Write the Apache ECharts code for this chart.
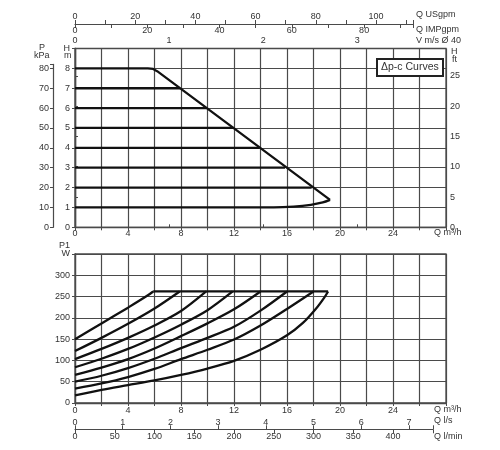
<!DOCTYPE html>
<html><head><meta charset="utf-8">
<script src="https://cdn.jsdelivr.net/npm/echarts@6/dist/echarts.min.js"></script>
<style>html,body{margin:0;padding:0;background:#fff}#c{width:500px;height:450px}</style>
</head><body><div id="c"></div>
<script>
// ---- data ----
const flowMax = 28;               // m3/h
const headMax = 9;                // m
const powerMax = 350;             // W
const usgpmPerM3h = 4.4029;
const impgpmPerM3h = 3.6662;
const m3hPerMs = 7.1;             // m3/h per 1 m/s (pipe Ø 40)
const m3hPerLs = 3.6;

// Δp-c head curves
const headLevels = [7, 6, 5, 4, 3, 2];
const headEndFlow = [7.92, 9.94, 11.95, 13.9, 15.85, 17.86];
const maxCurveFlow = [0, 5.5, 5.9, 6.2, 19.25];
const maxCurveHead = [8, 8, 7.97, 7.86, 1.38];
const minCurveFlow = [0, 15, 16.5, 17.8, 18.7, 19.25];
const minCurveHead = [1, 1, 1.04, 1.13, 1.25, 1.38];

// power curves P1 (W)
const powerFlow8 = [0, 2, 4, 5.5, 5.9];
const power8 = [150, 187, 224, 253, 262];
const powerFlow7 = [0, 2, 4, 6, 7.9];
const power7 = [122, 153, 186, 222, 262];
const powerFlow6 = [0, 2, 4, 6, 8, 9.9];
const power6 = [103, 127, 153, 182, 216, 262];
const powerFlow5 = [0, 2, 4, 6, 8, 10, 11.9];
const power5 = [84, 104, 127, 154, 184, 218, 262];
const powerFlow4 = [0, 2, 4, 6, 8, 10, 12, 14];
const power4 = [66, 83, 103, 128, 157, 187, 220, 262];
const powerFlow3 = [0, 2, 4, 6, 8, 10, 12, 14, 16];
const power3 = [50, 64, 82, 104, 129, 153, 179, 217, 262];
const powerFlow2 = [0, 2, 4, 6, 8, 10, 12, 14, 16, 18];
const power2 = [34, 46, 61, 80, 103, 125, 149, 182, 221, 262];
const powerFlow1 = [0, 2, 4, 6, 8, 10, 12, 14, 16, 17.2, 18.2, 18.8, 19.1];
const power1 = [18, 31, 42, 53, 66, 81, 99, 125, 159, 188, 222, 247, 262];
const capFlow = [5.9, 19.1];
const capPower = [262, 262];

// ---- chart ----
const FONT = 'Liberation Sans';
const TXT = '#333';
const GRIDC = '#4a4a4a';
const zip = (a, b) => a.map((v, i) => [v, b[i]]);

const lineSeries = (data, xi, yi, smooth) => ({
  type: 'line', data, xAxisIndex: xi, yAxisIndex: yi, symbol: 'none', showSymbol: false,
  smooth: smooth ? 0.3 : false, silent: true, animation: false,
  lineStyle: { color: '#111', width: 2.3 }, z: 5
});

const lbl = (extra) => Object.assign({ fontFamily: FONT, fontSize: 9, color: TXT }, extra);

const series = [];
series.push(lineSeries(zip(maxCurveFlow, maxCurveHead), 0, 0, false));
headLevels.forEach((h, i) => series.push(lineSeries([[0, h], [headEndFlow[i], h]], 0, 0, false)));
series.push(lineSeries(zip(minCurveFlow, minCurveHead), 0, 0, true));

[[powerFlow8, power8], [powerFlow7, power7], [powerFlow6, power6], [powerFlow5, power5],
 [powerFlow4, power4], [powerFlow3, power3], [powerFlow2, power2], [powerFlow1, power1]]
  .forEach(([q, p]) => series.push(lineSeries(zip(q, p), 2, 2, true)));
series.push(lineSeries(zip(capFlow, capPower), 2, 2, false));

const hideAxis = (gi) => ({ gridIndex: gi, type: 'value', show: false, min: 0, max: 1 });

const topPlotTop = 48.5, topPlotBottom = 227.3;
const pxPerM = (topPlotBottom - topPlotTop) / headMax;
const kpaTopVal = 82;

const option = {
  animation: false,
  title: {
    text: 'Δp-c Curves', left: 377, top: 59,
    borderColor: '#222', borderWidth: 2, backgroundColor: '#fff', padding: [3, 4],
    textStyle: { fontFamily: FONT, fontSize: 10.5, fontWeight: 'normal', color: '#333' }
  },
  grid: [
    { left: 75, right: 54, top: topPlotTop, height: topPlotBottom - topPlotTop, show: true, borderColor: GRIDC, borderWidth: 1.3, outerBoundsMode: 'none' },
    { left: 75, right: 54, top: 254, height: 149, show: true, borderColor: GRIDC, borderWidth: 1.3, outerBoundsMode: 'none' },
    { left: 53, width: 1, top: topPlotBottom - (kpaTopVal / 10) * pxPerM, height: (kpaTopVal / 10) * pxPerM, outerBoundsMode: 'none' },
    { left: 75, width: 338, top: 24, height: 0.01, outerBoundsMode: 'none' },
    { left: 75, width: 27 * 13.25, top: 429.3, height: 0.01, outerBoundsMode: 'none' }
  ],
  xAxis: [
    { gridIndex: 0, type: 'value', position: 'bottom', min: 0, max: flowMax, interval: 2,
      axisLine: { show: true, lineStyle: { color: GRIDC, width: 1.3 } },
      axisTick: { show: true, length: 3, lineStyle: { color: GRIDC } },
      splitLine: { show: true, lineStyle: { color: GRIDC, width: 1.2 } },
      axisLabel: lbl({ margin: 2, formatter: v => (v % 4 === 0 && v <= 24) ? String(v) : '' }) },
    { gridIndex: 0, type: 'value', position: 'top', min: 0, max: flowMax / m3hPerMs, interval: 1,
      axisLine: { show: false }, splitLine: { show: false },
      axisTick: { show: true, length: 3, lineStyle: { color: GRIDC } },
      axisLabel: lbl({ margin: 3, formatter: v => (Number.isInteger(v) && v <= 3) ? String(v) : '' }) },
    { gridIndex: 1, type: 'value', position: 'bottom', min: 0, max: flowMax, interval: 2,
      axisLine: { show: true, lineStyle: { color: GRIDC, width: 1.3 } },
      axisTick: { show: true, length: 3, lineStyle: { color: GRIDC } },
      splitLine: { show: true, lineStyle: { color: GRIDC, width: 1.2 } },
      axisLabel: lbl({ margin: 3, formatter: v => (v % 4 === 0 && v <= 24) ? String(v) : '' }) },
    hideAxis(2),
    { gridIndex: 3, type: 'value', position: 'top', min: 0, max: 338 / 13.25 * usgpmPerM3h, interval: 10,
      axisLine: { show: true, onZero: false, lineStyle: { color: GRIDC, width: 1.2 } },
      axisTick: { show: true, length: 4, lineStyle: { color: GRIDC } }, splitLine: { show: false },
      axisLabel: lbl({ margin: 3, formatter: v => (v % 20 === 0 && v <= 100) ? String(v) : '' }) },
    { gridIndex: 3, type: 'value', position: 'bottom', min: 0, max: 338 / 13.25 * impgpmPerM3h, interval: 10,
      axisLine: { show: false, onZero: false },
      axisTick: { show: true, length: 4, lineStyle: { color: GRIDC } }, splitLine: { show: false },
      axisLabel: lbl({ margin: 2, formatter: v => (v % 20 === 0 && v <= 80) ? String(v) : '' }) },
    { gridIndex: 4, type: 'value', position: 'top', min: 0, max: 27 / m3hPerLs, interval: 1,
      axisLine: { show: true, onZero: false, lineStyle: { color: GRIDC, width: 1.2 } },
      axisTick: { show: true, length: 4, lineStyle: { color: GRIDC } }, splitLine: { show: false },
      axisLabel: lbl({ margin: 2, formatter: v => (Number.isInteger(v) && v <= 7) ? String(v) : '' }) },
    { gridIndex: 4, type: 'value', position: 'bottom', min: 0, max: 27 * 1000 / 60, interval: 50,
      axisLine: { show: false, onZero: false },
      axisTick: { show: true, length: 4, lineStyle: { color: GRIDC } }, splitLine: { show: false },
      axisLabel: lbl({ margin: 3, formatter: v => (v % 50 === 0 && v <= 400) ? String(v) : '' }) }
  ],
  yAxis: [
    { gridIndex: 0, type: 'value', position: 'left', min: 0, max: headMax, interval: 1,
      axisLine: { show: true, lineStyle: { color: GRIDC, width: 1.3 } },
      axisTick: { show: true, length: 3, lineStyle: { color: GRIDC } },
      splitLine: { show: true, lineStyle: { color: GRIDC, width: 1.2 } },
      axisLabel: lbl({ margin: 5, formatter: v => v === 9 ? 'H' : String(v) }) },
    { gridIndex: 0, type: 'value', position: 'right', min: 0, max: headMax * 3.28084, interval: 5,
      axisLine: { show: true, lineStyle: { color: GRIDC, width: 1.3 } },
      axisTick: { show: true, length: 3, lineStyle: { color: GRIDC } }, splitLine: { show: false },
      axisLabel: lbl({ margin: 4, formatter: v => (v % 5 === 0 && v <= 25) ? String(v) : '' }) },
    { gridIndex: 1, type: 'value', position: 'left', min: 0, max: powerMax, interval: 50,
      axisLine: { show: true, lineStyle: { color: GRIDC, width: 1.3 } },
      axisTick: { show: true, length: 3, lineStyle: { color: GRIDC } },
      splitLine: { show: true, lineStyle: { color: GRIDC, width: 1.2 } },
      axisLabel: lbl({ margin: 5, fontSize: 9, formatter: v => v === 350 ? 'W' : String(v) }) },
    { gridIndex: 2, type: 'value', position: 'left', min: 0, max: kpaTopVal, interval: 10,
      axisLine: { show: true, onZero: false, lineStyle: { color: GRIDC, width: 1.2 } },
      axisTick: { show: true, length: 3, lineStyle: { color: GRIDC } }, splitLine: { show: false },
      axisLabel: lbl({ margin: 4, formatter: v => (v % 10 === 0 && v <= 80) ? String(v) : '' }) },
    hideAxis(3),
    hideAxis(4)
  ],
  graphic: [
    { type: 'text', left: 416, top: 10.5, style: { text: 'Q USgpm', fill: TXT, font: '9px "Liberation Sans"' } },
    { type: 'text', left: 416, top: 25.5, style: { text: 'Q IMPgpm', fill: TXT, font: '9px "Liberation Sans"' } },
    { type: 'text', left: 416, top: 36, style: { text: 'V m/s Ø 40', fill: TXT, font: '9px "Liberation Sans"' } },
    { type: 'text', left: 451, top: 47, style: { text: 'H', fill: TXT, font: '9px "Liberation Sans"' } },
    { type: 'text', left: 452, top: 55.5, style: { text: 'ft', fill: TXT, font: '9px "Liberation Sans"' } },
    { type: 'text', left: 39, top: 43.5, style: { text: 'P', fill: TXT, font: '9px "Liberation Sans"' } },
    { type: 'text', left: 34, top: 51.5, style: { text: 'kPa', fill: TXT, font: '9px "Liberation Sans"' } },
    { type: 'text', left: 64, top: 51.5, style: { text: 'm', fill: TXT, font: '9px "Liberation Sans"' } },
    { type: 'text', left: 434, top: 228.5, style: { text: 'Q m³/h', fill: TXT, font: '9px "Liberation Sans"' } },
    { type: 'text', left: 434, top: 405, style: { text: 'Q m³/h', fill: TXT, font: '9px "Liberation Sans"' } },
    { type: 'text', left: 59, top: 241.5, style: { text: 'P1', fill: TXT, font: '9px "Liberation Sans"' } },
    { type: 'text', left: 434, top: 416.5, style: { text: 'Q l/s', fill: TXT, font: '9px "Liberation Sans"' } },
    { type: 'text', left: 434, top: 432.5, style: { text: 'Q l/min', fill: TXT, font: '9px "Liberation Sans"' } }
  ],
  series
};

const chart = echarts.init(document.getElementById('c'), null, { renderer: 'canvas' });
chart.setOption(option);
</script>
</body></html>
